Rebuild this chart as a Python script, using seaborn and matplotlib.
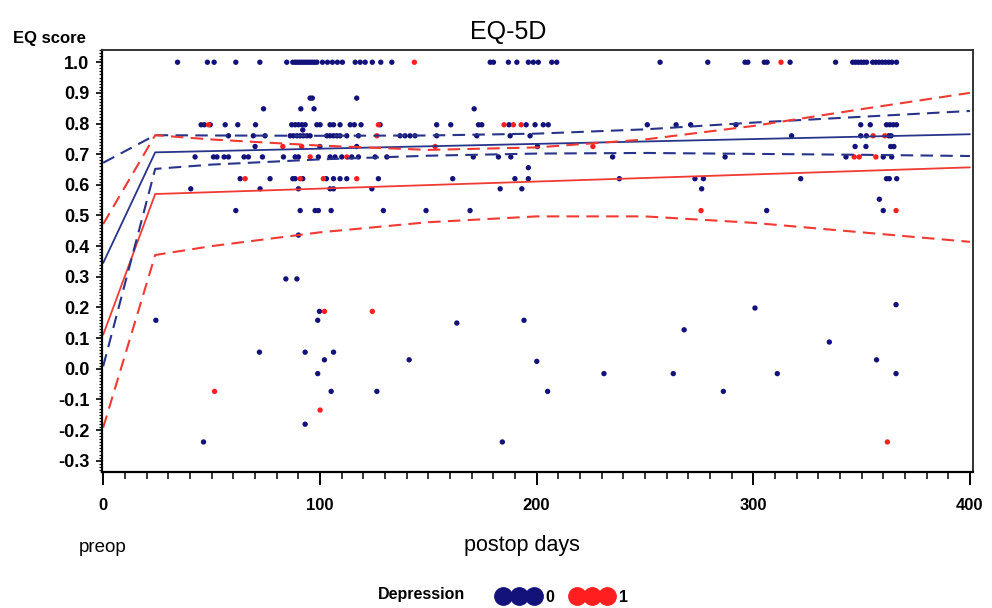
import numpy as np
import pandas as pd
import matplotlib
matplotlib.use('Agg')
import matplotlib.pyplot as plt
import seaborn as sns
from matplotlib.lines import Line2D
from matplotlib.ticker import MultipleLocator, FormatStrFormatter

# postop day of each answer, grouped by EQ-5D score; blue = depression 0, red = depression 1
blue_100 = [34.3, 48.1, 51.2, 61.2, 72.3, 84.7, 87.5, 88.6, 89.5, 90.5, 91.5, 92.5, 93.5, 94.5,
            95.5, 96.5, 97.5, 98.6, 101.2, 103.5, 105.8, 108.1, 110.4, 116.3, 118.6, 120.9,
            124.2, 128.1, 133.2, 178.6, 180.1, 187, 190.9, 196.2, 198.5, 200.8, 207, 209.3,
            257, 279, 296.2, 297.5, 305.1, 306.4, 317, 338, 345.9, 347.2, 348.5, 349.8, 351,
            352.3, 355.1, 356.5, 358, 359.5, 361, 362.5, 364, 366.1]
red_100 = [143.6, 312.8]
blue_088 = [95.5, 96.5, 117]
blue_085 = [74, 91.2, 97.3, 171.2]
blue_078 = [92.1]
blue_080 = [45.2, 46.7, 49.4, 56.3, 62.1, 70.3, 87, 88.6, 90.1, 91.7, 93.2, 98.6, 100.1, 104.7,
            106.3, 109.3, 114, 115.9, 119, 127.8, 153.9, 160.4, 173.2, 174.7, 187.3, 195.2,
            199.3, 203.1, 205.4, 251.1, 264.4, 271.1, 292, 349.6, 354, 361.5, 363, 364.6, 366.1]
red_080 = [48.6, 127, 185, 189.3, 192.9]
blue_076 = [57.8, 69.3, 74.7, 86.3, 87.8, 89.4, 90.9, 92.4, 94, 95.5, 103.2, 104.7, 106.3,
            107.8, 109.3, 112.4, 117.8, 137, 139.3, 141.6, 143.9, 153.9, 172.4, 187.8, 197,
            317.7, 349.6, 352.2, 362.5, 363.6]
red_076 = [126.3, 355.3, 360.7]
blue_073 = [70.1, 100, 117, 200.4, 347, 352, 363.4, 364.9]
red_073 = [82.9, 91.6, 153.2, 226]
blue_069 = [42.4, 50.9, 52.5, 55.8, 57.8, 65, 67, 73.5, 83.2, 88.6, 90.1, 99.3, 104.7, 107,
            110.1, 114.7, 117.8, 125.5, 130.9, 170.8, 182.4, 188.1, 235.1, 287, 342.8, 360, 363.9]
red_069 = [95.5, 112.4, 346.6, 348.9, 356.6]
blue_066 = [196.2]
blue_062 = [63.2, 77, 87.5, 88.6, 92.1, 103, 106.3, 109.3, 112.4, 127, 161.3, 190, 196.2,
            238.2, 273.1, 277, 321.9, 361.5, 362.8, 366.2]
red_062 = [65.5, 90.9, 101.6, 117]
blue_059 = [40.4, 72.4, 90.1, 104.7, 106.3, 124, 183.2, 193.2, 276.2]
blue_055 = [358.2]
blue_052 = [61.2, 90.9, 97.8, 99.3, 105.2, 129.3, 149, 169.3, 306.2, 360]
red_052 = [275.9, 365.9]
blue_044 = [90.1]
blue_029 = [84.3, 89.4]
blue_021 = [365.9]
blue_020 = [300.8]
blue_019 = [99.8]
red_019 = [102.1, 124.2]
blue_016 = [24.3, 99.0, 194.2]
blue_015 = [163.2]
blue_013 = [268.1]
blue_009 = [335.1]
blue_005 = [72.1, 93.2, 106.3]
blue_003 = [102.1, 141.2, 356.9]
blue_002 = [200.1]
blue_m002 = [99.0, 231.1, 263.1, 311.1, 365.9]
blue_m007 = [105.2, 126.3, 205.1, 286.2]
red_m007 = [51.4]
red_m014 = [100.1]
blue_m018 = [93.2]
blue_m024 = [46.3, 184.2]
red_m024 = [361.9]

# fitted lines: preop value, kink at day 24, then over the year
fit_days = [0, 24, 400]
blue_fit = [0.345, 0.706, 0.765]
red_fit = [0.111, 0.570, 0.657]
ci_days = [0, 24, 50, 100, 150, 200, 250, 300, 350, 400]
blue_upper = [0.672, 0.762, 0.761, 0.760, 0.761, 0.767, 0.781, 0.803, 0.822, 0.841]
blue_lower = [0.008, 0.652, 0.666, 0.683, 0.695, 0.702, 0.704, 0.701, 0.698, 0.694]
red_upper = [0.472, 0.762, 0.748, 0.728, 0.714, 0.722, 0.748, 0.792, 0.847, 0.900]
red_lower = [-0.192, 0.371, 0.400, 0.445, 0.478, 0.497, 0.497, 0.476, 0.445, 0.414]

groups = [
    (1.0, blue_100, 0), (1.0, red_100, 1), (0.883, blue_088, 0), (0.848, blue_085, 0),
    (0.779, blue_078, 0), (0.796, blue_080, 0), (0.796, red_080, 1), (0.760, blue_076, 0),
    (0.760, red_076, 1), (0.725, blue_073, 0), (0.725, red_073, 1), (0.691, blue_069, 0),
    (0.691, red_069, 1), (0.656, blue_066, 0), (0.620, blue_062, 0), (0.620, red_062, 1),
    (0.587, blue_059, 0), (0.553, blue_055, 0), (0.516, blue_052, 0), (0.516, red_052, 1),
    (0.436, blue_044, 0), (0.293, blue_029, 0), (0.209, blue_021, 0), (0.198, blue_020, 0),
    (0.187, blue_019, 0), (0.187, red_019, 1), (0.158, blue_016, 0), (0.149, blue_015, 0),
    (0.127, blue_013, 0), (0.087, blue_009, 0), (0.054, blue_005, 0), (0.029, blue_003, 0),
    (0.024, blue_002, 0), (-0.016, blue_m002, 0), (-0.074, blue_m007, 0), (-0.074, red_m007, 1),
    (-0.135, red_m014, 1), (-0.181, blue_m018, 0), (-0.239, blue_m024, 0), (-0.239, red_m024, 1),
]
rows = []
for score, days, dep in groups:
    for d in days:
        rows.append({'day': d, 'eq': score, 'dep': dep})
df = pd.DataFrame(rows)

navy = '#12127a'
red = '#ff1f1f'
blue_line = '#283489'
red_line = '#f03a32'

sns.set_style('ticks')
plt.rcParams['font.family'] = ['Liberation Sans', 'DejaVu Sans']
plt.rcParams['axes.unicode_minus'] = False
plt.rcParams['text.color'] = 'black'
plt.rcParams['xtick.color'] = 'black'
plt.rcParams['ytick.color'] = 'black'

fig = plt.figure(figsize=(9.92, 6.08), dpi=100)
ax = fig.add_axes([0.1025, 0.2242, 0.8781, 0.6936])

sns.scatterplot(data=df, x='day', y='eq', hue='dep', palette={0: navy, 1: red},
                s=15, linewidth=0, legend=False, ax=ax)

dash = (0, (6, 3.5))
sns.lineplot(x=fit_days, y=blue_fit, color=blue_line, linewidth=1.3, ax=ax)
sns.lineplot(x=fit_days, y=red_fit, color=red_line, linewidth=1.3, ax=ax)
sns.lineplot(x=ci_days, y=blue_upper, color=blue_line, linewidth=1.5, linestyle=dash, ax=ax)
sns.lineplot(x=ci_days, y=blue_lower, color=blue_line, linewidth=1.5, linestyle=dash, ax=ax)
sns.lineplot(x=ci_days, y=red_upper, color=red_line, linewidth=1.5, linestyle=dash, ax=ax)
sns.lineplot(x=ci_days, y=red_lower, color=red_line, linewidth=1.5, linestyle=dash, ax=ax)

ax.set_xlim(-0.7, 401.3)
ax.set_ylim(-0.336, 1.040)
ax.xaxis.set_major_locator(MultipleLocator(100))
ax.xaxis.set_minor_locator(MultipleLocator(10))
ax.yaxis.set_major_locator(MultipleLocator(0.1))
ax.yaxis.set_minor_locator(MultipleLocator(0.01))
ax.yaxis.set_major_formatter(FormatStrFormatter('%.1f'))
ax.tick_params(axis='x', which='major', length=9, width=1.4, pad=10, labelsize=12)
ax.tick_params(axis='x', which='minor', length=5, width=1.1)
ax.tick_params(axis='y', which='major', length=4, width=1.2, pad=5, labelsize=13)
ax.tick_params(axis='y', which='minor', length=2, width=0.8)
for lab in ax.get_xticklabels() + ax.get_yticklabels():
    lab.set_fontweight('bold')
ax.set_xlabel('')
ax.set_ylabel('')
for side in ['left', 'bottom']:
    ax.spines[side].set_linewidth(1.6)
    ax.spines[side].set_color('black')
for side in ['top', 'right']:
    ax.spines[side].set_linewidth(1.4)
    ax.spines[side].set_color('#333333')

fig.text(0.512, 0.947, 'EQ-5D', ha='center', va='center', fontsize=18)
fig.text(0.013, 0.9375, 'EQ score', ha='left', va='center', fontsize=12, fontweight='bold')
fig.text(0.104, 0.0987, 'preop', ha='center', va='center', fontsize=13.5)
fig.text(0.526, 0.102, 'postop days', ha='center', va='center', fontsize=15.5)
fig.text(0.425, 0.023, 'Depression', ha='center', va='center', fontsize=11.5, fontweight='bold')

handles = [Line2D([], [], marker='o', linestyle='none', color=navy, markersize=12.5),
           Line2D([], [], marker='o', linestyle='none', color=red, markersize=12.5)]
fig.legend(handles, ['0', '1'], ncol=2, loc='center', bbox_to_anchor=(0.568, 0.018),
           frameon=False, numpoints=3, handlelength=2.5, handletextpad=0.45,
           columnspacing=1.1, prop={'weight': 'bold', 'size': 11.5})

fig.savefig('out.png', dpi=100)
